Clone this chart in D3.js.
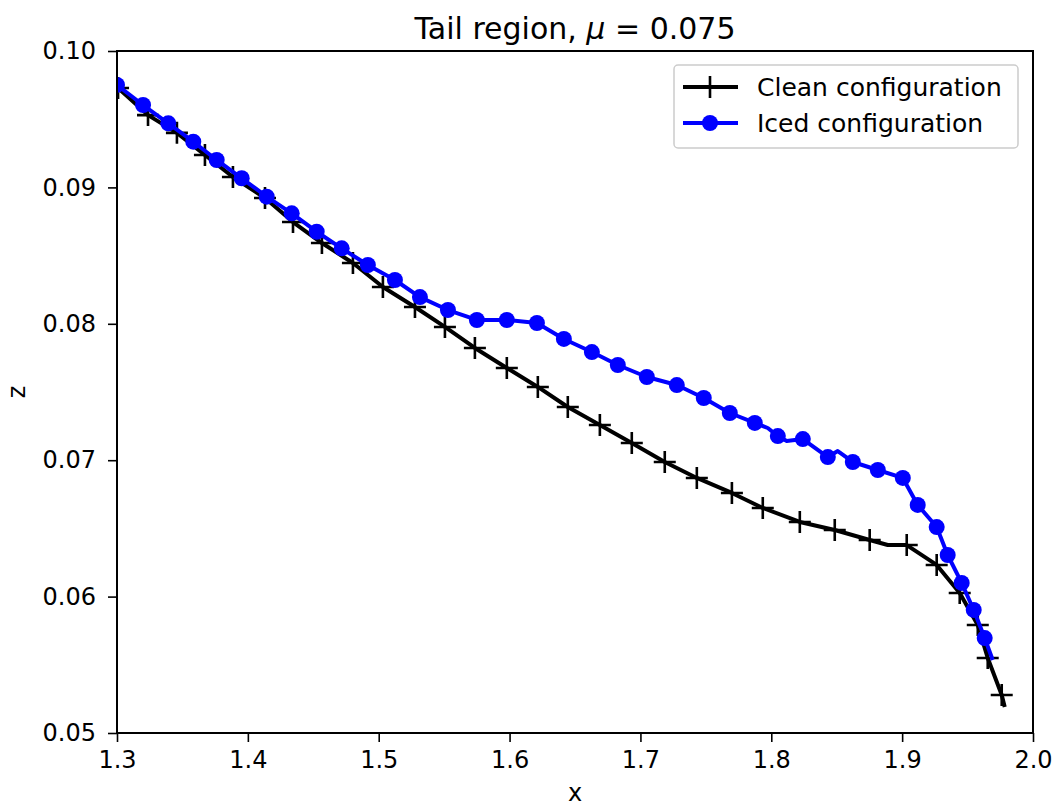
<!DOCTYPE html>
<html>
<head>
<meta charset="utf-8">
<script src="https://cdn.jsdelivr.net/npm/d3@7"></script>
<style>
  html, body { margin: 0; padding: 0; background: #fff; }
  svg { display: block; font-family: "DejaVu Sans", sans-serif; }
</style>
</head>
<body>
<svg id="chart" width="1055" height="809"></svg>
<script>
// ---- Data ----
const cleanX = [1.3008, 1.3237, 1.3458, 1.3672, 1.3886, 1.4131, 1.4345, 1.4566, 1.4803, 1.5032,
                1.5277, 1.5506, 1.5735, 1.5979, 1.6216, 1.6445, 1.6690, 1.6934, 1.7186, 1.7431,
                1.7699, 1.7935, 1.8218, 1.8485, 1.8752, 1.9035, 1.9264, 1.9440, 1.9578, 1.9654, 1.9761];
const cleanZ = [0.09729, 0.09530, 0.09400, 0.09238, 0.09076, 0.08922, 0.08746, 0.08592, 0.08446, 0.08270,
                0.08123, 0.07977, 0.07823, 0.07676, 0.07537, 0.07390, 0.07258, 0.07126, 0.06987, 0.06870,
                0.06760, 0.06650, 0.06547, 0.06488, 0.06415, 0.06378, 0.06232, 0.06026, 0.05792, 0.05550, 0.05279];
// line-only vertices between markers
const cleanExtraX = [1.8890, 1.9784];
const cleanExtraZ = [0.06378, 0.05191];

const icedX = [1.3000, 1.3199, 1.3392, 1.3583, 1.3762, 1.3953, 1.4144, 1.4335, 1.4526, 1.4717,
               1.4917, 1.5124, 1.5315, 1.5529, 1.5750, 1.5979, 1.6209, 1.6415, 1.6629, 1.6827,
               1.7049, 1.7278, 1.7484, 1.7683, 1.7874, 1.8050, 1.8241, 1.8432, 1.8623, 1.8814,
               1.9005, 1.9119, 1.9264, 1.9348, 1.9455, 1.9547, 1.9631];
const icedZ = [0.09751, 0.09604, 0.09470, 0.09335, 0.09201, 0.09067, 0.08932, 0.08810, 0.08675, 0.08553,
               0.08431, 0.08321, 0.08196, 0.08101, 0.08028, 0.08028, 0.08006, 0.07889, 0.07793, 0.07698,
               0.07610, 0.07551, 0.07456, 0.07346, 0.07273, 0.07177, 0.07155, 0.07023, 0.06987, 0.06928,
               0.06870, 0.06672, 0.06510, 0.06305, 0.06100, 0.05902, 0.05696];
const icedExtraX = [1.7973, 1.8118, 1.8508, 1.9692];
const icedExtraZ = [0.07236, 0.07141, 0.07067, 0.05535];

const xTicks = [1.3, 1.4, 1.5, 1.6, 1.7, 1.8, 1.9, 2.0];
const yTicks = [0.05, 0.06, 0.07, 0.08, 0.09, 0.10];
const seriesNames = ["Clean configuration", "Iced configuration"];
const seriesColors = ["#000000", "#0000ff"];

// ---- Layout ----
const svg = d3.select("#chart");
const L = 117, R = 1033, T = 51, B = 733;
const x = d3.scaleLinear().domain([1.3, 2.0]).range([L, R]);
const y = d3.scaleLinear().domain([0.05, 0.10]).range([B, T]);

const pts = (xs, zs) => xs.map((v, i) => [v, zs[i]]);
const merged = (xs, zs, ex, ez) => pts(xs, zs).concat(pts(ex, ez)).sort((a, b) => a[0] - b[0]);

svg.append("defs").append("clipPath").attr("id", "clip")
  .append("rect").attr("x", L).attr("y", T).attr("width", R - L).attr("height", B - T);

const line = d3.line().x(d => x(d[0])).y(d => y(d[1]));
const plot = svg.append("g").attr("clip-path", "url(#clip)");

// Clean series
plot.append("path")
  .datum(merged(cleanX, cleanZ, cleanExtraX, cleanExtraZ))
  .attr("d", line).attr("fill", "none")
  .attr("stroke", seriesColors[0]).attr("stroke-width", 4).attr("stroke-linejoin", "round");
const plusSize = 11;
plot.append("g").selectAll("path").data(pts(cleanX, cleanZ)).join("path")
  .attr("d", d => {
    const cx = x(d[0]), cy = y(d[1]);
    return `M${cx - plusSize},${cy}H${cx + plusSize}M${cx},${cy - plusSize}V${cy + plusSize}`;
  })
  .attr("stroke", seriesColors[0]).attr("stroke-width", 2.6).attr("fill", "none");

// Iced series
plot.append("path")
  .datum(merged(icedX, icedZ, icedExtraX, icedExtraZ))
  .attr("d", line).attr("fill", "none")
  .attr("stroke", seriesColors[1]).attr("stroke-width", 4).attr("stroke-linejoin", "round");
plot.append("g").selectAll("circle").data(pts(icedX, icedZ)).join("circle")
  .attr("cx", d => x(d[0])).attr("cy", d => y(d[1])).attr("r", 8)
  .attr("fill", seriesColors[1]);

// Axes
const fontSize = 24;
const xAxis = svg.append("g").attr("transform", `translate(0,${B})`)
  .call(d3.axisBottom(x).tickValues(xTicks).tickFormat(d3.format(".1f")).tickSize(9).tickPadding(9));
const yAxis = svg.append("g").attr("transform", `translate(${L},0)`)
  .call(d3.axisLeft(y).tickValues(yTicks).tickFormat(d3.format(".2f")).tickSize(9).tickPadding(12));
[xAxis, yAxis].forEach(a => {
  a.attr("font-family", "DejaVu Sans, sans-serif").attr("font-size", fontSize);
  a.select(".domain").remove();
  a.selectAll(".tick line").attr("stroke", "#000").attr("stroke-width", 1.6);
  a.selectAll(".tick text").attr("font-size", fontSize).attr("fill", "#000");
});

// Frame
svg.append("rect").attr("x", L).attr("y", T).attr("width", R - L).attr("height", B - T)
  .attr("fill", "none").attr("stroke", "#000").attr("stroke-width", 2);

// Title & labels
const title = svg.append("text").attr("x", (L + R) / 2).attr("y", 39)
  .attr("text-anchor", "middle").attr("font-size", 30).attr("fill", "#000");
title.append("tspan").text("Tail region, ");
title.append("tspan").attr("font-style", "italic").text("μ");
title.append("tspan").text(" = 0.075");

svg.append("text").attr("x", (L + R) / 2).attr("y", 801).attr("text-anchor", "middle")
  .attr("font-size", fontSize).attr("fill", "#000").text("x");
svg.append("text").attr("transform", `translate(25,${(T + B) / 2}) rotate(-90)`)
  .attr("text-anchor", "middle").attr("font-size", fontSize).attr("fill", "#000").text("z");

// Legend
const lg = svg.append("g");
lg.append("rect").attr("x", 674).attr("y", 65).attr("width", 344).attr("height", 83)
  .attr("rx", 4).attr("fill", "#fff").attr("fill-opacity", 0.8)
  .attr("stroke", "#cccccc").attr("stroke-width", 1.5);
const rowsY = [87, 123];
seriesNames.forEach((name, i) => {
  const yy = rowsY[i];
  lg.append("line").attr("x1", 683).attr("x2", 738).attr("y1", yy).attr("y2", yy)
    .attr("stroke", seriesColors[i]).attr("stroke-width", 4);
  if (i === 0) {
    lg.append("path").attr("d", `M${710 - plusSize},${yy}H${710 + plusSize}M710,${yy - plusSize}V${yy + plusSize}`)
      .attr("stroke", seriesColors[0]).attr("stroke-width", 2.6);
  } else {
    lg.append("circle").attr("cx", 710).attr("cy", yy).attr("r", 8).attr("fill", seriesColors[1]);
  }
  lg.append("text").attr("x", 757).attr("y", yy).attr("dy", "0.35em")
    .attr("font-size", 25).attr("fill", "#000").text(name);
});
</script>
</body>
</html>
